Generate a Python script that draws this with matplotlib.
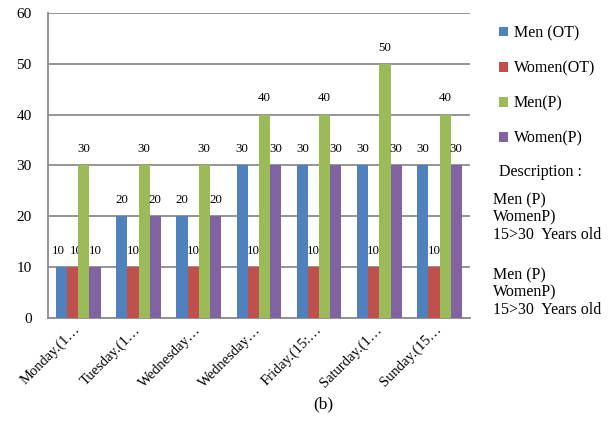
import matplotlib.pyplot as plt
import matplotlib.transforms as mtransforms
import numpy as np

plt.rcParams['font.family'] = ['Liberation Serif', 'DejaVu Serif']

days = ['Monday.(1…', 'Tuesday.(1…', 'Wednesday…', 'Wednesday…',
        'Friday.(15:…', 'Saturday.(1…', 'Sunday.(15…']
men_ot = [10, 20, 20, 30, 30, 30, 30]
women_ot = [10, 10, 10, 10, 10, 10, 10]
men_p = [30, 30, 30, 40, 40, 50, 40]
women_p = [10, 20, 20, 30, 30, 30, 30]

series = [('Men (OT)', men_ot, '#4F81BD'),
          ('Women(OT)', women_ot, '#C0504D'),
          ('Men(P)', men_p, '#9BBB59'),
          ('Women(P)', women_p, '#8064A2')]

fig = plt.figure(figsize=(6.1, 4.33), dpi=100)
ax = fig.add_axes([0.079, 0.266, 0.691, 0.704])

x = np.arange(len(days))
w = 0.185
for i, (name, vals, col) in enumerate(series):
    pos = x + (i - 1.5) * w
    ax.bar(pos, vals, w, color=col, label=name, zorder=3)
    for j, (p, v) in enumerate(zip(pos, vals)):
        # spread neighbouring labels of equal height so they don't collide
        dx = 0
        if i == 0 and men_ot[j] == women_ot[j]:
            dx = -2.5
        elif i == 1 and men_ot[j] == women_ot[j]:
            dx = 2.5
        ax.annotate(str(v), (p, v + 2.0), xytext=(dx, 0),
                    textcoords='offset points', ha='center', va='bottom',
                    fontsize=9.3)

ax.set_ylim(0, 60)
ax.set_xlim(-0.5, len(days) - 0.5)
ax.set_yticks(range(0, 61, 10))
ax.yaxis.grid(True, color='#8c8c8c', linewidth=1.3, zorder=0)
ax.set_xticks(x)
ax.set_xticklabels(days, rotation=45, ha='right', va='center',
                   rotation_mode='anchor', fontsize=10.5)
# shift the slanted day labels a little to the right
shift = mtransforms.ScaledTranslation(16 / 100, 0, fig.dpi_scale_trans)
for lbl in ax.get_xticklabels():
    lbl.set_transform(lbl.get_transform() + shift)
ax.tick_params(axis='y', length=0, labelsize=11, pad=12)
ax.tick_params(axis='x', length=0, pad=7)
for s in ['top', 'right']:
    ax.spines[s].set_visible(False)
for s in ['left', 'bottom']:
    ax.spines[s].set_color('#8c8c8c')
    ax.spines[s].set_linewidth(1.3)

fig.legend(loc='upper left', bbox_to_anchor=(0.795, 0.975), frameon=False,
           fontsize=11.5, handlelength=0.55, handleheight=0.55,
           handletextpad=0.35, labelspacing=1.2)

fig.text(0.818, 0.603, 'Description :', fontsize=11.5, va='center')
fig.text(0.808, 0.556, 'Men (P)\nWomenP)\n15>30  Years old', fontsize=11.5,
         va='top', linespacing=1.1)
fig.text(0.808, 0.383, 'Men (P)\nWomenP)\n15>30  Years old', fontsize=11.5,
         va='top', linespacing=1.1)

fig.text(0.53, 0.065, '(b)', fontsize=12.5, ha='center', va='center')

fig.savefig('out.png', dpi=100)
